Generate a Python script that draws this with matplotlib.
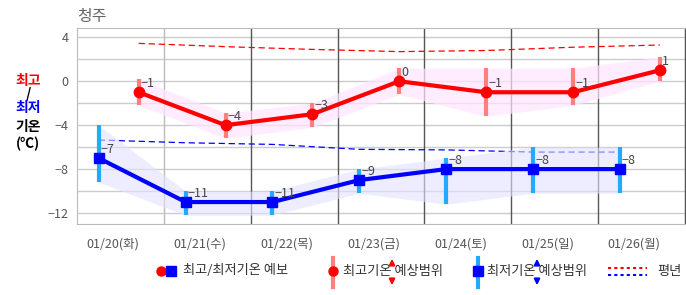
import matplotlib.pyplot as plt
import numpy as np

plt.rcParams['font.family'] = ['Noto Sans CJK KR', 'DejaVu Sans']

days = ["01/20(화)", "01/21(수)", "01/22(목)", "01/23(금)", "01/24(토)", "01/25(일)", "01/26(월)"]
max_temp = [-1, -4, -3, 0, -1, -1, 1]
max_high = [0.2, -2.9, -2.0, 1.2, 1.2, 1.2, 2.2]
max_low = [-2.2, -5.2, -4.2, -1.2, -3.2, -2.2, 0.0]
min_temp = [-7, -11, -11, -9, -8, -8, -8]
min_high = [-4.0, -10.0, -10.0, -8.0, -7.0, -6.0, -6.0]
min_low = [-9.2, -12.2, -12.2, -10.2, -11.2, -10.2, -10.2]
normal_max = [3.45, 3.15, 2.9, 2.7, 2.8, 3.1, 3.3]
normal_min = [-5.35, -5.6, -5.75, -6.2, -6.25, -6.45, -6.45]

n = len(days)
day = np.arange(n)
x_min = day + 0.25   # morning lows
x_max = day + 0.71   # afternoon highs

fig = plt.figure(figsize=(6.86, 2.95), dpi=100)
ax = fig.add_axes([77 / 686, 1 - 224 / 295, 608 / 686, 196 / 295])

# grid
for v in np.arange(-12, 5, 2):
    ax.axhline(v, color="#cccccc", lw=1, zorder=0)
ax.axvline(1, color="#bbbbbb", lw=1, zorder=0)
for b in range(2, n + 1):
    ax.axvline(b, color="#555555", lw=1, zorder=0)

# normals
ax.plot(x_max, normal_max, color="red", lw=0.9, ls=(0, (5, 3)), zorder=1)
ax.plot(x_min, normal_min, color="blue", lw=0.9, ls=(0, (5, 3)), zorder=1)

# bands
ax.fill_between(x_max, max_low, max_high, color="#ffe6ff", alpha=0.7, lw=0, zorder=1)
ax.fill_between(x_min, min_low, min_high, color="#e2e2ff", alpha=0.6, lw=0, zorder=1)

# range bars
ax.vlines(x_max, max_low, max_high, color="#ff7f7f", lw=3, zorder=2)
ax.vlines(x_min, min_low, min_high, color="#22aaff", lw=3, zorder=2)

# forecast lines
ax.plot(x_max, max_temp, color="red", lw=3, marker="o", ms=7.5, zorder=3)
ax.plot(x_min, min_temp, color="blue", lw=3, marker="s", ms=7, zorder=3)

for xs, ys in [(x_max, max_temp), (x_min, min_temp)]:
    for xv, yv in zip(xs, ys):
        ax.annotate("{}".format(yv).replace("-", "\u2212"), xy=(xv, yv), xytext=(1.5, 1.5),
                    textcoords="offset points", ha="left", va="bottom",
                    fontsize=9, color="#444444", zorder=4)

ax.set_xlim(0, n)
ax.set_ylim(-13, 4.85)
ax.set_yticks([4, 0, -4, -8, -12])
ax.set_xticks(day + 0.415)
ax.set_xticklabels(days)
ax.tick_params(length=0, labelsize=9, colors="#555555", pad=6)
ax.tick_params(axis="x", pad=10)
for s in ax.spines.values():
    s.set_color("#bbbbbb")
ax.spines["right"].set_color("#555555")

# title and side label
fig.text(77 / 686, 1 - 16 / 295, "청주", fontsize=11.5, color="#666666", ha="left", va="center")
side = [("최고", "red", 81), ("/", "black", 94), ("최저", "blue", 108), ("기온", "black", 127), ("(℃)", "black", 144)]
for txt, c, yp in side:
    fig.text(28 / 686, 1 - yp / 295, txt, fontsize=10, color=c, weight="bold", ha="center", va="center")

# legend in pixel coords
lax = fig.add_axes([0, 0, 1, 1])
lax.set_xlim(0, 686)
lax.set_ylim(295, 0)
lax.axis("off")
ly = 271
lax.plot(161, ly, "o", color="red", ms=6.5)
lax.plot(171, ly, "s", color="blue", ms=6.5)
lax.text(183, ly, "최고/최저기온 예보", fontsize=9.5, color="#333333", va="center")

lax.plot([333, 333], [258, 287], color="#ff7f7f", lw=3)
lax.plot(333, ly, "o", color="red", ms=6.5)
lax.text(343, ly, "최고기온 예상범위", fontsize=9.5, color="#333333", va="center")
lax.annotate("", xy=(392, 256), xytext=(392, 267), arrowprops=dict(arrowstyle="-|>", color="red", lw=1.5, mutation_scale=8))
lax.annotate("", xy=(392, 288), xytext=(392, 277), arrowprops=dict(arrowstyle="-|>", color="red", lw=1.5, mutation_scale=8))

lax.plot([478, 478], [258, 287], color="#22aaff", lw=3)
lax.plot(478, ly, "s", color="blue", ms=6.5)
lax.text(487, ly, "최저기온 예상범위", fontsize=9.5, color="#333333", va="center")
lax.annotate("", xy=(537, 256), xytext=(537, 267), arrowprops=dict(arrowstyle="-|>", color="blue", lw=1.5, mutation_scale=8))
lax.annotate("", xy=(537, 288), xytext=(537, 277), arrowprops=dict(arrowstyle="-|>", color="blue", lw=1.5, mutation_scale=8))

lax.plot([608, 647], [268, 268], color="red", lw=1.5, ls=(0, (1.5, 1.5)))
lax.plot([608, 647], [275, 275], color="blue", lw=1.5, ls=(0, (1.5, 1.5)))
lax.text(657, ly, "평년", fontsize=9.5, color="#333333", va="center")

plt.savefig("out.png", dpi=100)
